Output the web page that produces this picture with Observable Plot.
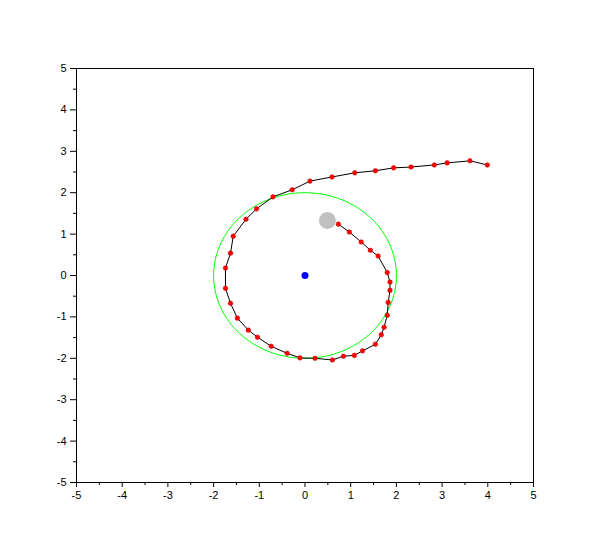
<!DOCTYPE html>
<html>
<head>
<meta charset="utf-8">
<script src="https://cdn.jsdelivr.net/npm/d3@7"></script>
<script src="https://cdn.jsdelivr.net/npm/@observablehq/plot@0.6"></script>
<style>
  html, body { margin: 0; padding: 0; background: #fff; }
  #chart svg { display: block; }
</style>
</head>
<body>
<div id="chart"></div>
<script>
// Trajectory points (x, y), from inner end to outer end
const trajX = [0.73, 0.97, 1.23, 1.43, 1.60, 1.80, 1.86, 1.86, 1.82, 1.80, 1.73, 1.67, 1.54, 1.26, 1.08, 0.84, 0.60, 0.22, -0.11, -0.39, -0.74, -1.04, -1.24, -1.48, -1.63, -1.74, -1.74, -1.63, -1.57, -1.29, -1.06, -0.70, -0.28, 0.11, 0.59, 1.09, 1.54, 1.94, 2.32, 2.83, 3.11, 3.61, 3.99];
const trajY = [1.24, 1.05, 0.81, 0.61, 0.47, 0.07, -0.16, -0.36, -0.65, -0.96, -1.25, -1.43, -1.66, -1.82, -1.93, -1.95, -2.04, -2.00, -1.99, -1.88, -1.71, -1.49, -1.32, -1.03, -0.67, -0.31, 0.18, 0.54, 0.95, 1.36, 1.61, 1.90, 2.07, 2.28, 2.38, 2.48, 2.53, 2.60, 2.62, 2.67, 2.72, 2.77, 2.67];

// Grey marker (start) and blue centre point
const startX = [0.49];
const startY = [1.33];
const centerX = [0];
const centerY = [0];

// Reference circle
const circleRadius = 2;
const circleSteps = 180;

// Axis ticks
const majorTicks = [-5, -4, -3, -2, -1, 0, 1, 2, 3, 4, 5];
const minorTicks = [-4.5, -3.5, -2.5, -1.5, -0.5, 0.5, 1.5, 2.5, 3.5, 4.5];

const traj = trajX.map((x, i) => ({x, y: trajY[i]}));
const circle = d3.range(circleSteps + 1).map(i => {
  const a = (i / circleSteps) * 2 * Math.PI;
  return {x: circleRadius * Math.cos(a), y: circleRadius * Math.sin(a)};
});
const start = startX.map((x, i) => ({x, y: startY[i]}));
const center = centerX.map((x, i) => ({x, y: centerY[i]}));

const chart = Plot.plot({
  width: 610,
  height: 550,
  marginLeft: 76,
  marginRight: 77,
  marginTop: 68,
  marginBottom: 68,
  style: {fontFamily: "'Liberation Sans', Arial, sans-serif", fontSize: "11px", color: "#000", background: "#fff"},
  x: {domain: [-5, 5], axis: null, label: null},
  y: {domain: [-5, 5], axis: null, label: null},
  marks: [
    Plot.frame({stroke: "#000", strokeWidth: 1}),
    Plot.axisX({ticks: majorTicks, label: null, tickSize: 5, tickFormat: d => String(d), tickPadding: 4, anchor: "bottom", stroke: "#000", strokeOpacity: 1, fill: "#000"}),
    Plot.axisX({ticks: minorTicks, label: null, tickSize: 3, tickFormat: () => "", anchor: "bottom", stroke: "#000", strokeOpacity: 1}),
    Plot.axisY({ticks: majorTicks, label: null, tickSize: 6, tickFormat: d => String(d), tickPadding: 4, anchor: "left", stroke: "#000", strokeOpacity: 1, fill: "#000"}),
    Plot.axisY({ticks: minorTicks, label: null, tickSize: 3, tickFormat: () => "", anchor: "left", stroke: "#000", strokeOpacity: 1}),
    Plot.line(circle, {x: "x", y: "y", stroke: "#00ff00", strokeWidth: 1, curve: "linear"}),
    Plot.line(traj, {x: "x", y: "y", stroke: "#000", strokeWidth: 1}),
    Plot.dot(traj, {x: "x", y: "y", r: 2.3, fill: "#ff0000", stroke: "#cc0000", strokeWidth: 0.5}),
    Plot.dot(start, {x: "x", y: "y", r: 8.5, fill: "#c0c0c0"}),
    Plot.dot(center, {x: "x", y: "y", r: 3.5, fill: "#0000ff"})
  ]
});
document.getElementById("chart").appendChild(chart);
</script>
</body>
</html>
